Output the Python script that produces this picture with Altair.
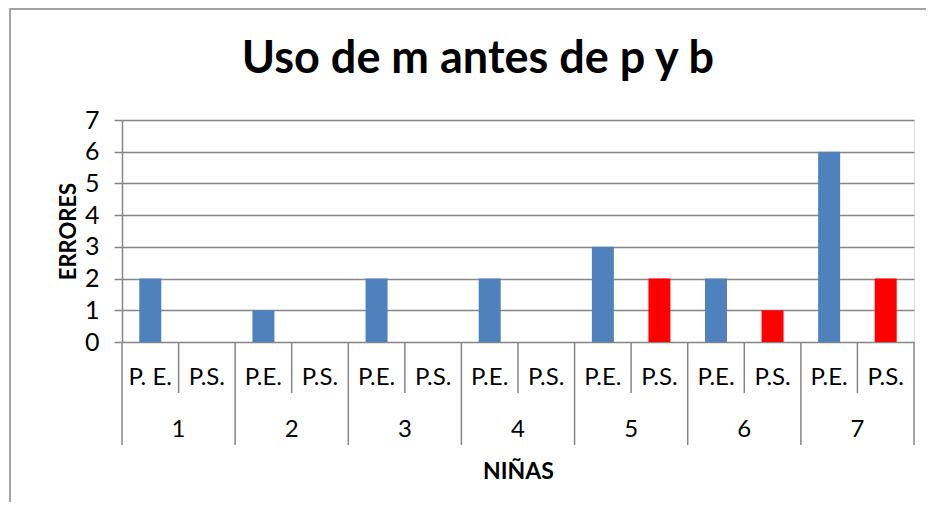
import altair as alt
import pandas as pd

# ---- data ----
titulo = "Uso de m antes de p y b"
grupos = ["1", "2", "3", "4", "5", "6", "7"]
etiquetas_pe = ["P. E.", "P.E.", "P.E.", "P.E.", "P.E.", "P.E.", "P.E."]
etiquetas_ps = ["P.S.", "P.S.", "P.S.", "P.S.", "P.S.", "P.S.", "P.S."]
valores_pe = [2, 1, 2, 2, 3, 2, 6]
valores_ps = [0, 0, 0, 0, 2, 1, 2]

series = ["P.E.", "P.S."]
colores = ["#4F81BD", "#FF0000"]

rows = []
for i, g in enumerate(grupos):
    rows.append({"grupo": g, "pos": 2 * i + 0.5, "etiqueta": etiquetas_pe[i],
                 "serie": "P.E.", "valor": valores_pe[i]})
    rows.append({"grupo": g, "pos": 2 * i + 1.5, "etiqueta": etiquetas_ps[i],
                 "serie": "P.S.", "valor": valores_ps[i]})
df = pd.DataFrame(rows)

grp_df = pd.DataFrame({"grupo": grupos, "centro": [2 * i + 1 for i in range(len(grupos))]})
outer_df = pd.DataFrame({"sep": [2 * i for i in range(len(grupos) + 1)]})
inner_df = pd.DataFrame({"sep": [2 * i + 1 for i in range(len(grupos))]})

W, H = 792, 222
FONT = "Lato"
GRAY = "#868686"
n_slots = 2 * len(grupos)

xscale = alt.Scale(domain=[0, n_slots], nice=False, zero=False, padding=0)

bars = alt.Chart(df).transform_filter(alt.datum.valor > 0).mark_bar(size=22).encode(
    x=alt.X("pos:Q", scale=xscale,
            axis=alt.Axis(labels=False, ticks=False, domain=False, grid=False,
                          title="NIÑAS", titleFont=FONT, titleFontSize=23,
                          titleFontWeight="bold", titleColor="black",
                          titleX=W / 2, titleY=136, titleBaseline="alphabetic")),
    y=alt.Y("valor:Q", scale=alt.Scale(domain=[0, 7], nice=False),
            axis=alt.Axis(values=list(range(8)), title="ERRORES",
                          titleFont=FONT, titleFontSize=22, titleFontWeight="bold",
                          titleColor="black", titleAngle=-90, titleX=-54,
                          titleY=H / 2, titleBaseline="middle", titleAlign="center",
                          labelFont=FONT, labelFontSize=25, labelColor="black",
                          labelPadding=15, tickSize=8, tickColor=GRAY,
                          domainColor=GRAY, domainWidth=1.5, tickWidth=1.5,
                          gridColor=GRAY, gridWidth=1.5)),
    color=alt.Color("serie:N", scale=alt.Scale(domain=series, range=colores), legend=None),
)

sub_labels = alt.Chart(df).mark_text(font=FONT, fontSize=24, color="black",
                                     baseline="alphabetic", align="center").encode(
    x=alt.X("pos:Q", scale=xscale),
    y=alt.value(H + 43),
    text="etiqueta:N",
)

grp_labels = alt.Chart(grp_df).mark_text(font=FONT, fontSize=24, color="black",
                                         baseline="alphabetic", align="center").encode(
    x=alt.X("centro:Q", scale=xscale),
    y=alt.value(H + 95),
    text="grupo:N",
)

outer_rules = alt.Chart(outer_df).mark_rule(color=GRAY, strokeWidth=1.5).encode(
    x=alt.X("sep:Q", scale=xscale),
    y=alt.value(H),
    y2=alt.value(H + 103),
)

inner_rules = alt.Chart(inner_df).mark_rule(color=GRAY, strokeWidth=1.5).encode(
    x=alt.X("sep:Q", scale=xscale),
    y=alt.value(H),
    y2=alt.value(H + 51),
)

frame = alt.Chart(pd.DataFrame({"k": [0]})).mark_rect(
    fill="white", fillOpacity=0, stroke=GRAY, strokeWidth=1.5).encode(
    x=alt.value(-112), x2=alt.value(W + 100),
    y=alt.value(-111), y2=alt.value(H + 300),
)

title_mark = alt.Chart(pd.DataFrame({"t": [titulo]})).mark_text(
    font=FONT, fontSize=45, fontWeight="bold", color="black",
    align="center", baseline="alphabetic").encode(
    x=alt.value(356), y=alt.value(-47), text="t:N",
)

chart = alt.layer(frame, bars, outer_rules, inner_rules, sub_labels, grp_labels,
                  title_mark).properties(
    width=W,
    height=H,
    autosize=alt.AutoSizeParams(type="none"),
    padding={"left": 114, "top": 112, "right": 12, "bottom": 160},
).configure_view(stroke=None).configure(background="white")

chart.save("out.html", embed_options={"renderer": "svg", "actions": False})
